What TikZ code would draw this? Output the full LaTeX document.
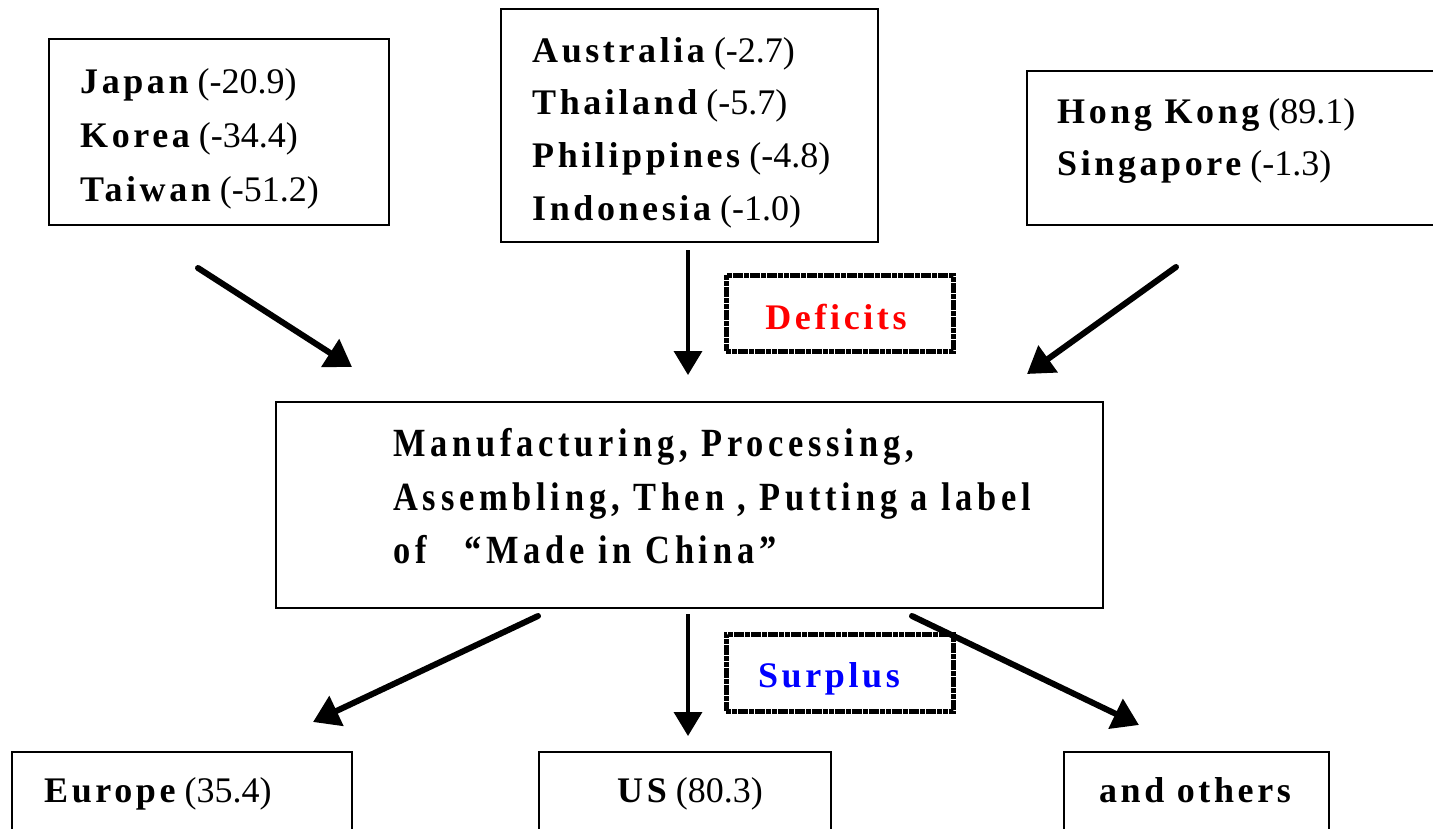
\documentclass[tikz,border=0pt]{standalone}
\usepackage{fontspec}
\setmainfont{Liberation Serif}
\newfontfamily\spfam{Liberation Serif}[LetterSpace=10]
\newfontfamily\ctrfam{Liberation Serif}[FakeStretch=0.86,LetterSpace=12]
\usetikzlibrary{arrows.meta}
\newcommand{\cn}[2]{{\spfam\bfseries #1} #2}
\begin{document}
\begin{tikzpicture}[x=1pt,y=-1pt,
  box/.style={draw, line width=2pt, anchor=north west, inner sep=0pt},
  dbox/.style={draw, line width=4.5pt, dash pattern=on 5pt off 0.7pt, anchor=north west, inner sep=0pt},
  lbl/.style={anchor=base west, inner sep=0pt, font=\fontsize{36}{43}\selectfont},
  clbl/.style={anchor=base, inner sep=0pt, font=\fontsize{36}{43}\selectfont},
  ctxt/.style={anchor=base west, inner sep=0pt, font=\fontsize{40}{48}\selectfont\ctrfam\bfseries},
  arr/.style={line width=3.5pt, -{Triangle[length=24pt,width=28pt]}},
  darr/.style={line width=6pt, line cap=round, -{Triangle[length=26pt,width=32pt]}}]
\useasboundingbox (0,0) rectangle (1433,828);
\clip (0,0) rectangle (1433,828);
% boxes
\node[box, minimum width=340, minimum height=186] (jk) at (48,38) {};
\node[box, minimum width=377, minimum height=233] (ath) at (500,8) {};
\node[box, minimum width=420, minimum height=154] (hk) at (1026,70) {};
\node[dbox, minimum width=227, minimum height=76] (def) at (724,273) {};
\node[box, minimum width=827, minimum height=206] (ctr) at (275,401) {};
\node[dbox, minimum width=227, minimum height=77] (sur) at (724,632) {};
\node[box, minimum width=340, minimum height=100] (eu) at (11,751) {};
\node[box, minimum width=292, minimum height=100] (us) at (538,751) {};
\node[box, minimum width=265, minimum height=100] (oth) at (1063,751) {};
% labels
\node[lbl] (l1) at (80,93) {\cn{Japan}{(-20.9)}};
\node[lbl] (l2) at (80,147) {\cn{Korea}{(-34.4)}};
\node[lbl] (l3) at (80,201) {\cn{Taiwan}{(-51.2)}};
\node[lbl] (l4) at (532,62) {\cn{Australia}{(-2.7)}};
\node[lbl] (l5) at (532,114) {\cn{Thailand}{(-5.7)}};
\node[lbl] (l6) at (532,167) {\cn{Philippines}{(-4.8)}};
\node[lbl] (l7) at (532,220) {\cn{Indonesia}{(-1.0)}};
\node[lbl] (l8) at (1057,123) {\cn{Hong Kong}{(89.1)}};
\node[lbl] (l9) at (1057,175) {\cn{Singapore}{(-1.3)}};
\node[clbl, text=red] (ldef) at (836,329) {\spfam\bfseries Deficits};
\node[clbl, text=blue] (lsur) at (829,687) {\spfam\bfseries Surplus};
\node[ctxt] (c1) at (393,456) {Manufacturing, Processing,};
\node[ctxt] (c2) at (393,510) {Assembling, Then , Putting a label};
\node[ctxt] (c3) at (393,563) {of\hspace{38pt}“Made in China”};
\node[lbl] (leu) at (44,802) {\cn{Europe}{(35.4)}};
\node[clbl] (lus) at (690,802) {\cn{US}{(80.3)}};
\node[clbl] (loth) at (1195,802) {\spfam\bfseries and others};
% arrow end points
\coordinate (s1) at (198,268); \coordinate (t1) at (352,367);
\coordinate (s2) at (688,250); \coordinate (t2) at (688,375);
\coordinate (s3) at (1176,267); \coordinate (t3) at (1027,374);
\coordinate (s4) at (538,616); \coordinate (t4) at (313,722);
\coordinate (s5) at (688,614); \coordinate (t5) at (688,736);
\coordinate (s6) at (912,616); \coordinate (t6) at (1139,725);
\draw[darr] (s1) -- (t1);
\draw[arr] (s2) -- (t2);
\draw[darr] (s3) -- (t3);
\draw[darr] (s4) -- (t4);
\draw[arr] (s5) -- (t5);
\draw[darr] (s6) -- (t6);
\end{tikzpicture}
\end{document}
